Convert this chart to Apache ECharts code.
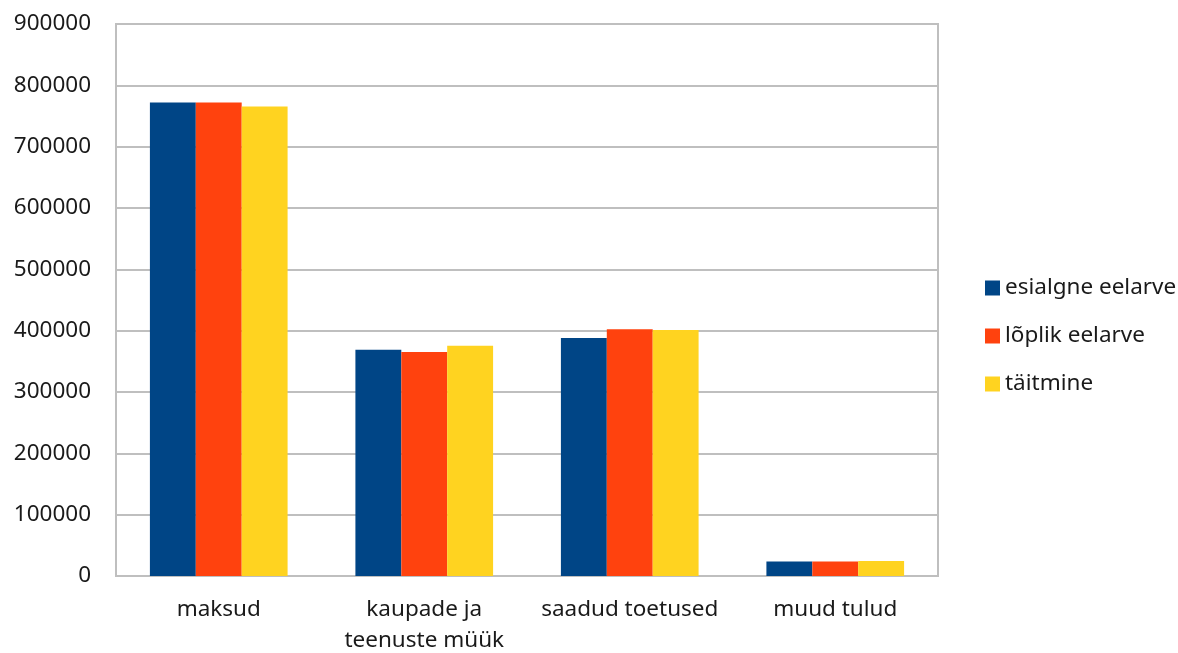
<!DOCTYPE html>
<html>
<head>
<meta charset="utf-8">
<script src="https://cdn.jsdelivr.net/npm/echarts@6/dist/echarts.min.js"></script>
<style>
  html, body { margin: 0; padding: 0; background: #fff; }
  #chart { width: 1178px; height: 653px; }
</style>
</head>
<body>
<div id="chart"></div>
<script>
// andmed
const categories = ['maksud', 'kaupade ja\nteenuste müük', 'saadud toetused', 'muud tulud']
const esialgne = [772000, 369000, 388000, 23500]
const loplik = [772000, 365300, 402300, 23500]
const taitmine = [765300, 375600, 401200, 24500]

const font = "'Noto Sans', 'Open Sans', sans-serif"
const fs = 22.5

const chart = echarts.init(document.getElementById('chart'))
const option = {
  animation: false,
  textStyle: { fontFamily: font },
  grid: {
    left: 116,
    right: 240,
    top: 24,
    bottom: 77,
    outerBoundsMode: 'none',
    containLabel: false,
    show: true,
    borderColor: '#bfbfbf',
    borderWidth: 2
  },
  legend: {
    orient: 'vertical',
    left: 980,
    top: 271,
    itemWidth: 15,
    itemHeight: 15,
    itemGap: 24,
    icon: 'rect',
    textStyle: { fontSize: fs, lineHeight: 24, color: '#1a1a1a', fontFamily: font }
  },
  xAxis: {
    type: 'category',
    data: categories,
    axisLine: { lineStyle: { color: '#bfbfbf', width: 2 } },
    axisTick: { show: false },
    axisLabel: {
      interval: 0,
      hideOverlap: false,
      fontSize: fs,
      color: '#1a1a1a',
      margin: 18,
      lineHeight: 31,
      fontFamily: font
    }
  },
  yAxis: {
    type: 'value',
    min: 0,
    max: 900000,
    interval: 100000,
    axisLine: { show: false },
    axisTick: { show: false },
    splitLine: { lineStyle: { color: '#bfbfbf', width: 2 } },
    axisLabel: {
      fontSize: fs,
      color: '#1a1a1a',
      margin: 25,
      fontFamily: font,
      formatter: v => String(v)
    }
  },
  series: [
    { name: 'esialgne eelarve', type: 'bar', data: esialgne, barGap: '0%', barCategoryGap: '33%', itemStyle: { color: '#004586' } },
    { name: 'lõplik eelarve', type: 'bar', data: loplik, barGap: '0%', barCategoryGap: '33%', itemStyle: { color: '#ff420e' } },
    { name: 'täitmine', type: 'bar', data: taitmine, barGap: '0%', barCategoryGap: '33%', itemStyle: { color: '#ffd320' } }
  ]
}
chart.setOption(option)
</script>
</body>
</html>
